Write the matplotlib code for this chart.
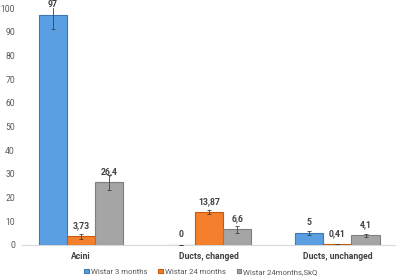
import matplotlib
matplotlib.use("Agg")
import matplotlib.pyplot as plt
import numpy as np

categories = ["Acini", "Ducts, changed", "Ducts, unchanged"]
series_names = ["Wistar 3 months", "Wistar 24 months", "Wistar 24months,SkQ"]
values = [
    [97, 0, 5],
    [3.73, 13.87, 0.41],
    [26.4, 6.6, 4.1],
]
errors = [
    [6, 0, 0.7],
    [1.0, 0.9, 0.1],
    [3.0, 1.5, 0.6],
]
labels = [
    ["97", "0", "5"],
    ["3,73", "13,87", "0,41"],
    ["26,4", "6,6", "4,1"],
]
colors = ["#5B9FE3", "#F47F2C", "#A5A5A5"]
edges = ["#3E78B2", "#C55A11", "#7F7F7F"]
yticks = [0, 10, 20, 30, 40, 50, 60, 70, 80, 90, 100]

plt.rcParams["font.family"] = ["Roboto", "DejaVu Sans"]

fig = plt.figure(figsize=(4.0, 2.79), dpi=100)
ax = fig.add_axes([0.055, 0.1219, 0.9325, 0.849])

x = np.arange(len(categories))
w = 0.22
for i in range(3):
    pos = x + (i - 1) * w
    ax.bar(pos, values[i], width=w, color=colors[i], edgecolor=edges[i], linewidth=0.8,
           yerr=errors[i], error_kw=dict(ecolor="#404040", elinewidth=0.6, capsize=1.5, capthick=0.6),
           label=series_names[i], zorder=3)
    for j in range(3):
        ax.annotate(labels[i][j], (pos[j], values[i][j]), xytext=(0, 4.5),
                    textcoords="offset points", ha="center", va="bottom",
                    fontsize=6.2, fontweight="bold", color="#404040", zorder=4)

ax.set_xlim(-0.46, 2.45)
ax.set_ylim(0, 100)
ax.set_yticks(yticks)
ax.set_xticks(x)
ax.set_xticklabels(categories, fontsize=6.2, fontweight="bold", color="#404040")
ax.tick_params(axis="y", length=0, labelsize=6.2, labelcolor="#595959", pad=5)
ax.tick_params(axis="x", length=0, pad=5)
for s in ["top", "right", "left"]:
    ax.spines[s].set_visible(False)
ax.spines["bottom"].set_color("#D9D9D9")
ax.spines["bottom"].set_linewidth(0.8)

leg = ax.legend(loc="upper center", bbox_to_anchor=(0.48, -0.07), ncol=3, frameon=False,
                fontsize=5.6, handlelength=0.55, handleheight=0.55, handletextpad=0.3,
                columnspacing=1.4)
for t in leg.get_texts():
    t.set_color("#595959")

fig.savefig("out.png", dpi=100)
